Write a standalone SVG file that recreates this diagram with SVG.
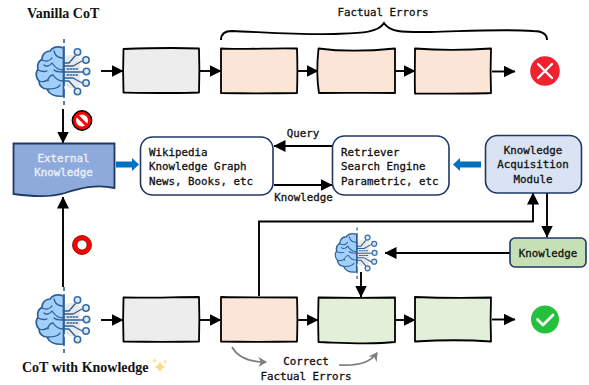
<svg xmlns="http://www.w3.org/2000/svg" xmlns:xlink="http://www.w3.org/1999/xlink" width="589" height="385" viewBox="0 0 589 385">
<style>
.bg{fill:#fff}
.sk{stroke:#000;stroke-width:1.8;stroke-linejoin:round}
.grey{fill:#ededed}.peach{fill:#fbe5d6}.green{fill:#e2f0d9}
.rnd{stroke:#1f3864;stroke-width:1.6}
.t{font-family:"DejaVu Sans Mono","Liberation Mono",monospace;font-size:10.800px;fill:#111;stroke:#111;stroke-width:0.3}
.m{text-anchor:middle}
.w{fill:#eef2fb;stroke:#eef2fb}
.title{font-family:"Liberation Serif",serif;font-size:14px;font-weight:bold;fill:#111}
.ln{fill:none;stroke:#000;stroke-width:1.9}
.gr{fill:none;stroke:#7f7f7f;stroke-width:1.7}
.blue{fill:#0070c0}
.bs{fill:#a3d0fb;stroke:#2c5f98;stroke-width:1.7;stroke-linejoin:round}
.bl{fill:none;stroke:#2c5f98;stroke-width:1.3;stroke-linecap:round;stroke-linejoin:round}
.bc{fill:#dbe9f8;stroke:#3a6ea8;stroke-width:1.6}
</style>
<defs>
<marker id="ah" viewBox="0 0 12 12" refX="11.5" refY="6" markerWidth="12" markerHeight="12" markerUnits="userSpaceOnUse" orient="auto"><path d="M0 0L12 6L0 12Z" fill="#000"/></marker>
<marker id="ag" viewBox="0 0 10 10" refX="8" refY="5" markerWidth="11" markerHeight="11" markerUnits="userSpaceOnUse" orient="auto"><path d="M1 0.5L9 5L1 9.5L3.5 5Z" fill="#7f7f7f"/></marker>
<symbol id="brain" overflow="visible">
<rect x="64" y="55" width="16" height="33" rx="6" fill="#e9e9e9"/>
<path class="bs" d="M63.500 48C58 46 53 47 50 51C45 51 42 55 42 59C38 62 37 66 38 69C35 73 36 78 39 81C39 86 43 89 47 89C49 94 55 97 63.500 96Z"/>
<path class="bl" d="M63 58C58 58 55 55 54 51M42 60C46 62 50 61 52 58M63 70C58 70 54 66 52 63C50 66 46 67 44 65M38 70C42 72 44 72 47 71M63 81C58 81 55 78 53 75C50 75 48 78 48 81M39 81C42 82 45 82 47 80M48 89C52 89 58 89 60 85M54 70C56 72 59 72 63 72"/>
<path class="bl" d="M64 63H69L75 56M64 66H73L82 61M64 72H83M64 78H73L82 83M64 81H69L75 88"/>
<path class="bl" stroke-dasharray="1.5 1.5" d="M67 69H78M67 75H78"/>
<circle class="bc" cx="77.500" cy="52" r="3.200"/><circle class="bc" cx="86" cy="60" r="3.200"/><circle class="bc" cx="86.500" cy="71.500" r="3.200"/><circle class="bc" cx="86" cy="83" r="3.200"/><circle class="bc" cx="77.500" cy="91.500" r="3.200"/>
<path d="M64 39V105" fill="none" stroke="#2c5f98" stroke-width="1.600" stroke-dasharray="4 3 40 3 9 3"/>
</symbol>
</defs>
<rect class="bg" width="589" height="385"/>

<g id="connectors">
<path class="ln" marker-end="url(#ah)" d="M101 71H123"/>
<path class="ln" marker-end="url(#ah)" d="M199 71H221"/>
<path class="ln" marker-end="url(#ah)" d="M297 71H318"/>
<path class="ln" marker-end="url(#ah)" d="M395 71H415"/>
<path class="ln" marker-end="url(#ah)" d="M492 71.500H515"/>
<path class="ln" marker-end="url(#ah)" d="M101 320H123"/>
<path class="ln" marker-end="url(#ah)" d="M199 320H221"/>
<path class="ln" marker-end="url(#ah)" d="M297 320H318"/>
<path class="ln" marker-end="url(#ah)" d="M395 320H415"/>
<path class="ln" marker-end="url(#ah)" d="M492 319.500H515"/>
<path class="ln" marker-end="url(#ah)" d="M63 109V143"/>
<path class="ln" marker-end="url(#ah)" d="M63 287V197"/>
<path class="ln" marker-end="url(#ah)" d="M332 146H274"/>
<path class="ln" marker-end="url(#ah)" d="M274 185H332"/>
<path class="ln" marker-end="url(#ah)" d="M259 296V221.500H533V193"/>
<path class="ln" marker-end="url(#ah)" d="M547 193V237"/>
<path class="ln" marker-end="url(#ah)" d="M510 253H385"/>
<path class="ln" marker-end="url(#ah)" d="M361 272V297"/>
<path class="blue" d="M116 161.500H132V158L139 164.500L132 171V167.500H116Z"/>
<path class="blue" d="M481 161.500H460V158L453 164.500L460 171V167.500H481Z"/>
<path class="gr" marker-end="url(#ag)" d="M232 347C238 358 250 362 266 362"/>
<path class="gr" marker-end="url(#ag)" d="M339 365C355 366 370 363 377 353"/>
<path class="ln" d="M221 40C221 35 224 31 232 31C260 32 300 35 335 34C360 33 378 33 384 23C390 33 405 32 430 32C470 31 500 29 533 31C543 31 547 35 547 40"/>
</g>

<g id="brain-top"><use href="#brain"/></g>
<g id="brain-bottom"><use href="#brain" transform="translate(0,248)"/></g>
<g id="brain-small"><use href="#brain" transform="translate(307.100,197) scale(0.78)"/></g>

<g id="title-top"><text class="title" x="27" y="18">Vanilla CoT</text></g>
<g id="title-bottom"><text class="title" x="22" y="372">CoT with Knowledge</text>
<path d="M160 361Q161 366 166 367Q161 368 160 373Q159 368 154 367Q159 366 160 361Z" fill="#f9dd85"/>
<path d="M154.500 358Q155 360 157 360.500Q155 361 154.500 363Q154 361 152 360.500Q154 360 154.500 358Z" fill="#f9e29a"/>
<path d="M165 359Q165.400 361 167 361.500Q165.400 362 165 364Q164.600 362 163 361.500Q164.600 361 165 359Z" fill="#f9e29a"/></g>
<g id="label-factual"><text class="t m" x="383" y="16">Factual Errors</text></g>

<g id="box-t1"><path class="sk grey" d="M123.500 49C150 48 175 47.500 199 48.500C199.500 63 199.500 78 199 92.500C175 93.500 150 93 123.500 92.500C123 78 123 63 123.500 49Z"/></g>
<g id="box-t2"><path class="sk peach" d="M221 48.500C245 50 275 47.500 297 48.500C297.500 63 297.500 78 297 93C270 93.500 245 93.500 221 93C221 78 221 63 221 48.500Z"/></g>
<g id="box-t3"><path class="sk peach" d="M318.500 48.500C345 52 370 51 395 48.500C395 63 395 78 395 93C370 92.500 345 93 319 93C316.500 78 317 63 318.500 48.500Z"/></g>
<g id="box-t4"><path class="sk peach" d="M415 48.500C440 50.500 470 50 491 48.500C490.500 63 490.500 78 491 93C470 94 440 93.500 415 93.500C414.500 78 415 63 415 48.500Z"/></g>
<g id="x-mark"><circle cx="545" cy="71" r="14.800" fill="#f0222f"/><path d="M538 64L552 78M552 64L538 78" stroke="#fff" stroke-width="2.400" stroke-linecap="round"/></g>

<g id="forbidden"><circle cx="82" cy="120.500" r="9" fill="#fff" stroke="#000" stroke-width="2.800"/><circle cx="82" cy="120.500" r="7.500" fill="#fff" stroke="#f00" stroke-width="3"/><path d="M77 115.500L87 125.500" stroke="#f00" stroke-width="3"/></g>
<g id="ring"><circle cx="82" cy="245" r="9.500" fill="#f00" stroke="#7a0000" stroke-width="0.800"/><circle cx="82" cy="245" r="5" fill="#fff" stroke="#400" stroke-width="0.600"/></g>

<g id="external-knowledge"><path d="M13.500 143.500H114.500V188C96 184 80 188 65 193C48 198 30 196 13.500 194Z" fill="#8eaadb" stroke="#1f3864" stroke-width="1.800"/>
<text class="t m w" x="63.500" y="162">External</text><text class="t m w" x="63.500" y="176">Knowledge</text></g>

<g id="sources"><rect class="rnd bg" x="140.500" y="137" width="132.500" height="58" rx="12"/>
<text class="t" x="149" y="156">Wikipedia</text><text class="t" x="149" y="170">Knowledge Graph</text><text class="t" x="149" y="185">News, Books, etc</text></g>

<g id="retriever"><rect class="rnd bg" x="332.500" y="136" width="116.500" height="59" rx="12"/>
<text class="t" x="341" y="156">Retriever</text><text class="t" x="341" y="170">Search Engine</text><text class="t" x="341" y="185">Parametric, etc</text></g>

<g id="acquisition"><rect class="rnd" fill="#dae3f3" x="485.500" y="135.500" width="96" height="57.500" rx="12"/>
<text class="t m" x="533" y="154">Knowledge</text><text class="t m" x="533" y="168">Acquisition</text><text class="t m" x="533" y="183">Module</text></g>

<g id="knowledge"><rect class="rnd" fill="#c5e0b4" x="510" y="238" width="76" height="29" rx="5"/>
<text class="t m" x="548" y="257">Knowledge</text></g>

<g id="label-query"><text class="t m" x="303" y="137">Query</text></g>
<g id="label-knowledge"><text class="t m" x="303.500" y="201">Knowledge</text></g>

<g id="box-b1"><path class="sk grey" d="M123.500 297.500C150 298 175 297 199 297C199.500 312 199.500 327 199 341.500C175 342 150 342 123.500 341.500C123 327 123 312 123.500 297.500Z"/></g>
<g id="box-b2"><path class="sk peach" d="M221 297C245 297.500 275 297.500 297 297.500C297.500 312 297.500 327 297 341.500C270 342 245 342 221 341.500C221 327 221 312 221 297Z"/></g>
<g id="box-b3"><path class="sk green" d="M318.500 297.500C345 298 370 298 395 297.500C395 312 395 327 395 342C370 345 345 343 318.500 342C318 327 318 312 318.500 297.500Z"/></g>
<g id="box-b4"><path class="sk green" d="M415 297C440 298 470 298 491 297.500C490.500 312 490.500 327 491 341.500C470 340 440 340 415 341.500C415 327 415 312 415 297Z"/></g>
<g id="check-mark"><circle cx="545" cy="319.500" r="14" fill="#26c13c"/><path d="M537.500 319.500L543 325L553 315" fill="none" stroke="#fff" stroke-width="2.800" stroke-linecap="round" stroke-linejoin="round"/></g>

<g id="label-correct"><text class="t m" x="306" y="365">Correct</text><text class="t m" x="306" y="380">Factual Errors</text></g>
</svg>
